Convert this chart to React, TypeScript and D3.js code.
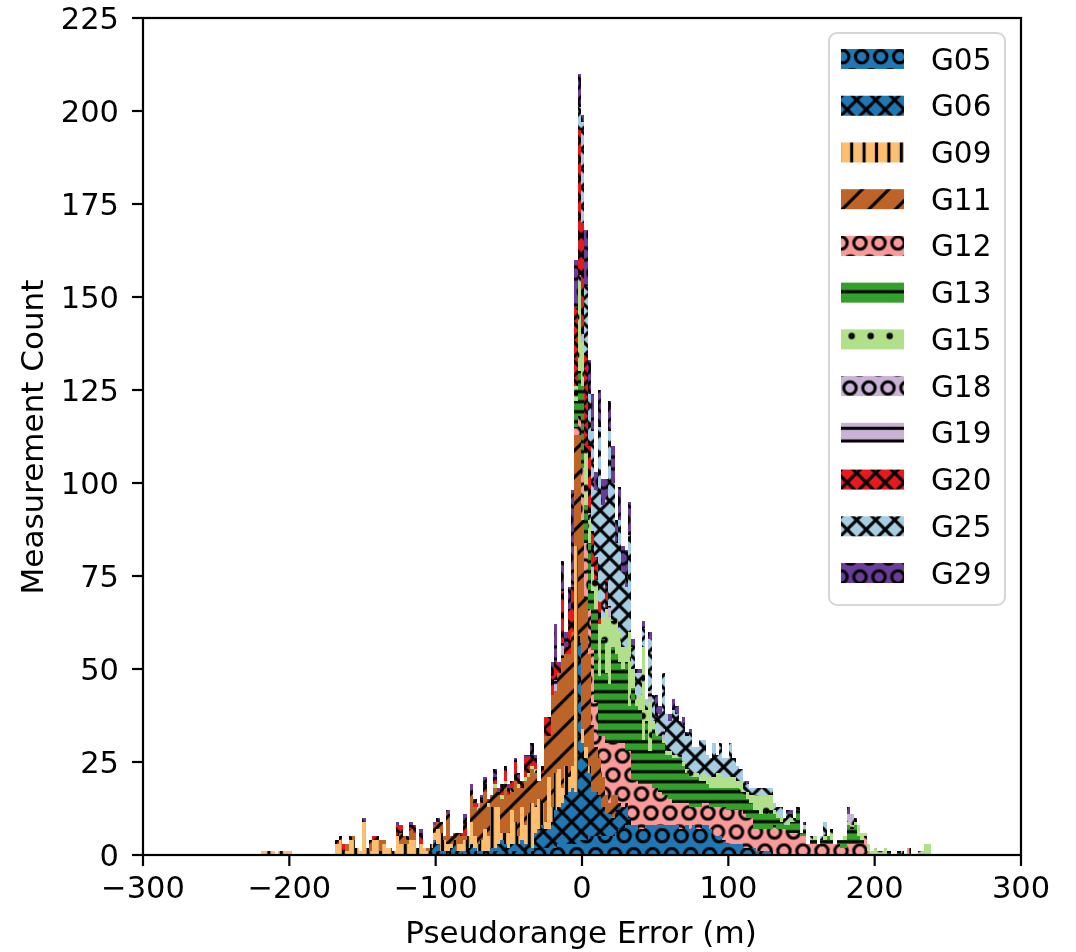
import React, { useMemo } from "react";
import * as d3 from "d3";

// Histogram bins
const BIN_ORIGIN = -219.2;
const BIN_WIDTH = 2.3;
const BIN_COUNT = 200;

// Series: first occupied bin + measurement counts per bin
const G05_START = 50;
const G05 = [1,1,1,0,1,0,1,1,1,0,1,1,1,1,0,1,0,1,1,1,1,1,1,1,1,1,1,1,1,1,1,2,2,2,2,2,2,2,3,3,3,3,3,3,4,4,4,5,5,5,5,5,5,5,5,6,7,7,8,8,8,8,7,7,8,8,8,8,8,8,8,8,8,8,7,7,8,7,8,7,7,8,8,7,5,5,5,4,3,3,3,3,3,2,2,2,2,1,1,1,1,1];
const G06_START = 50;
const G06 = [1,3,2,1,0,1,1,2,0,1,0,1,2,1,1,0,1,0,1,1,2,3,2,1,2,2,2,3,2,2,1,4,5,6,5,5,7,10,10,11,13,14,15,14,53,26,22,17,12,12,11,8,6,6,5,6,6,6,6,2];
const G09_START = 0;
const G09 = [1,1,1,1,0,1,1,1,1,0,0,0,0,0,0,0,0,0,0,0,0,0,3,4,1,1,4,4,2,1,9,2,1,4,4,1,3,2,2,1,5,3,3,3,4,4,2,3,2,1,1,2,4,5,3,2,1,1,2,2,3,3,6,3,2,3,6,4,11,11,10,2,3,4,9,6,2,9,5,8,12,7,8,6,2,14,4,10,10,4,8,4,6,66,2,4,3,2];
const G11_START = 25;
const G11 = [2,0,1,0,0,0,0,3,0,0,3,1,0,0,0,0,3,2,1,3,2,0,0,0,1,0,2,2,3,1,8,2,2,3,2,1,0,8,8,9,10,10,8,3,5,3,9,13,10,5,11,13,5,12,10,9,9,5,8,23,11,30,22,26,35,30,33,36,30,54,56,40,30,18,12,10,8,5,3,6,4,1];
const G12_START = 93;
const G12 = [2,5,14,15,12,20,12,6,11,14,16,14,14,16,17,14,18,12,12,12,12,11,11,10,10,9,8,8,7,6,6,7,7,6,6,5,6,6,6,6,6,8,8,8,9,9,9,9,9,9,9,8,8,5,6,6,6,6,6,8,7,7,7,6,6,6,6,5,5,3,3,3,3,3,3,3,3,3,3,2,2,3,3,3,3,3,5,1,0,0,0,0,0,0,0,0,0,1,0,2];
const G13_START = 93;
const G13 = [7,12,22,10,18,16,25,16,26,19,16,26,24,22,20,24,12,25,20,20,12,17,9,16,14,15,14,11,12,12,12,12,10,8,8,8,8,7,6,5,5,5,5,5,5,6,6,6,6,5,5,5,4,5,5,4,5,4,5,3,3,2,1,2,3,3,6,1,2,0,1,1,0,1,1,2,1,0,1,2,2,5,4,5,2,1,0,0,0,0,0,0,0,1,0,0,1];
const G15_START = 64;
const G15 = [1,0,0,1,0,1,0,1,1,0,0,0,1,0,1,1,1,1,0,0,0,0,0,0,0,0,0,0,0,4,24,12,15,6,5,8,14,6,17,18,7,10,8,6,4,20,5,3,4,25,3,13,2,1,0,1,1,1,1,1,1,1,1,1,1,1,1,2,2,3,3,4,4,3,3,3,3,2,3,0,2,2,4,4,5,4,5,4,1,1,1,0,1,1,0,0,0,1,0,0,1,0,0,1,0,3,0,0,0,1,1,1,1,3,2,1,2,1,2,1,1,2,0,0,0,0,0,0,0,0,0,1,1,3,3];
const G18_BINS = [64, 74, 94, 95, 97, 98, 143, 174, 175];
const G18_COUNTS = [1, 1, 2, 2, 2, 2, 1, 2, 3];
const G19_BINS = [87, 89, 103, 115, 119];
const G19_COUNTS = [3, 4, 3, 3, 3];
const G20_START = 22;
const G20 = [1,1,2,0,0,0,0,0,0,0,0,1,1,0,0,0,0,0,3,2,0,0,1,2,0,3,0,0,0,0,0,0,0,0,0,0,0,1,4,0,0,1,0,1,2,1,0,2,1,2,3,2,2,5,2,2,5,4,3,3,0,2,5,5,5,5,2,14,2,12,12,21,39,30,26,18,9,6,6,0,8];
const G25_START = 94;
const G25 = [6,27,18,14,27,18,47,30,22,47,37,20,30,20,16,26,6,6,6,5,3,14,7,4,6,15,10,8,12,11,9,10,9,11,7,7,10,9,6,5,9,5,8,5,5,9,5,4,3,3,2,2,2,2,2,2,2,2,2,2,3,2,2,1,1,0,0,0,0,1,0,0,1,4];
const G29_START = 26;
const G29 = [1,0,0,0,1,0,0,0,0,0,0,0,0,0,1,0,0,1,1,0,0,1,0,0,0,1,1,0,0,1,0,0,0,0,2,0,2,1,0,1,2,0,0,2,1,1,1,1,0,1,1,0,1,1,3,1,0,0,0,0,4,10,1,8,4,6,26,13,9,2,15,9,10,5,10,7,5,8,10,6,9,7,10,9,2,1,1,2,0,2,0,6,2,0,0,2,3,2,0,2,1,1,0,0,0,0,0,0,0,0,0,0,0,0,0,0,0,0,1,0,0,0,0,0,0,0,0,0,0,0,1,1,0,1,0,1,0,0,0,0,0,0,0,0,0,0,0,0,2,0,1];

const SATELLITES = ["G05","G06","G09","G11","G12","G13","G15","G18","G19","G20","G25","G29"];
const X_TICKS = [-300,-200,-100,0,100,200,300];
const Y_TICKS = [0,25,50,75,100,125,150,175,200,225];

const dense = (start: number, vals: number[]) => {
  const a = new Array(BIN_COUNT).fill(0);
  vals.forEach((v, i) => { a[start + i] = v; });
  return a;
};
const sparse = (bins: number[], vals: number[]) => {
  const a = new Array(BIN_COUNT).fill(0);
  bins.forEach((b, i) => { a[b] = vals[i]; });
  return a;
};

const SERIES: Record<string, number[]> = {
  G05: dense(G05_START, G05), G06: dense(G06_START, G06), G09: dense(G09_START, G09),
  G11: dense(G11_START, G11), G12: dense(G12_START, G12), G13: dense(G13_START, G13),
  G15: dense(G15_START, G15), G18: sparse(G18_BINS, G18_COUNTS), G19: sparse(G19_BINS, G19_COUNTS),
  G20: dense(G20_START, G20), G25: dense(G25_START, G25), G29: dense(G29_START, G29),
};

const FONT = "'DejaVu Sans', sans-serif";
const INK = "#000";
const W = 1076, H = 952;
const L = 143, R = 1021, T = 18, B = 855;

type Hatch = { color: string; kind: "ring" | "x" | "v" | "slash" | "h" | "dot"; tx: number; ty: number; size?: number };
const STYLE: Record<string, Hatch> = {
  G05: { color: "#1f78b4", kind: "ring", tx: 852.2, ty: 47.2 },
  G06: { color: "#1f78b4", kind: "x", tx: 847.2, ty: 90.5 },
  G09: { color: "#fdbf6f", kind: "v", tx: 851.7, ty: 0, size: 12.4 },
  G11: { color: "#bd6429", kind: "slash", tx: 840, ty: 185, size: 26.6 },
  G12: { color: "#fb9a99", kind: "ring", tx: 850.5, ty: 233.5 },
  G13: { color: "#33a02c", kind: "h", tx: 0, ty: 291.7, size: 10 },
  G15: { color: "#b2df8a", kind: "dot", tx: 842.2, ty: 326.5 },
  G18: { color: "#cab2d6", kind: "ring", tx: 840.5, ty: 378.5 },
  G19: { color: "#cab2d6", kind: "h", tx: 0, ty: 428.3, size: 12.7 },
  G20: { color: "#e8191c", kind: "x", tx: 847.2, ty: 463.5 },
  G25: { color: "#a6cee3", kind: "x", tx: 847.2, ty: 510.5 },
  G29: { color: "#6a3d9a", kind: "ring", tx: 850.5, ty: 567.5 },
};

function HatchPattern({ id, s }: { id: string; s: Hatch }) {
  const ink = "#000";
  const sw = 3.1;
  let w = 19, h = 19;
  let tx = s.tx, ty = s.ty;
  let body: React.ReactNode = null;
  if (s.kind === "ring" || s.kind === "dot") {
    h = 38;
    const pts = [[9.5, 9.5], [0, 28.5], [19, 28.5]];
    body = pts.map(([cx, cy], i) => s.kind === "ring"
      ? <circle key={i} cx={cx} cy={cy} r={6.2} fill="none" stroke={ink} strokeWidth={sw} />
      : <circle key={i} cx={cx} cy={cy} r={3.2} fill={ink} />);
  } else if (s.kind === "x") {
    body = <path d="M-2,-2L21,21M-2,21L21,-2M17,-2L21,2M-2,17L2,21M17,21L21,17M-2,2L2,-2" stroke={ink} strokeWidth={sw} fill="none" />;
  } else if (s.kind === "v") {
    w = s.size!; h = 19;
    tx -= w / 2;
    body = <line x1={w / 2} x2={w / 2} y1={0} y2={h} stroke={ink} strokeWidth={sw} />;
  } else if (s.kind === "h") {
    h = s.size!;
    ty -= h / 2;
    body = <line x1={0} x2={w} y1={h / 2} y2={h / 2} stroke={ink} strokeWidth={sw} />;
  } else {
    w = h = s.size!;
    body = <path d={`M-2,${h + 2}L${w + 2},-2M${w - 3},${h + 3}L${w + 3},${h - 3}M-3,3L3,-3`} stroke={ink} strokeWidth={sw} fill="none" />;
  }
  return (
    <pattern id={id} patternUnits="userSpaceOnUse" width={w} height={h}
      patternTransform={`translate(${tx},${ty})`}>
      <rect width={w} height={h} fill={s.color} />
      {body}
    </pattern>
  );
}

export default function App() {
  const x = useMemo(() => d3.scaleLinear().domain([-300, 300]).range([L, R]), []);
  const y = useMemo(() => d3.scaleLinear().domain([0, 225]).range([B, T]), []);
  const rows = useMemo(() => d3.range(BIN_COUNT).map((i) => {
    const row: Record<string, number> = { i };
    SATELLITES.forEach((k) => { row[k] = SERIES[k][i]; });
    return row;
  }), []);
  const stacks = useMemo(() => d3.stack<Record<string, number>>().keys(SATELLITES)(rows), [rows]);

  const LEGEND_Y = d3.range(SATELLITES.length).map((i) => 59 + i * 46.73);

  return (
    <svg width={W} height={H} viewBox={`0 0 ${W} ${H}`}
      style={{ position: "absolute", left: 0, top: 0, display: "block", background: "#fff", filter: "blur(0.7px)" }}>
      <defs>
        {SATELLITES.map((k) => <HatchPattern key={k} id={`hatch-${k}`} s={STYLE[k]} />)}
        <HatchPattern id="hatch-legend-G13" s={{ ...STYLE.G13, size: 26 }} />
      </defs>
      <g shapeRendering="crispEdges">
        {stacks.map((layer) => (
          <g key={layer.key} fill={`url(#hatch-${layer.key})`}>
            {layer.map((d, i) => d[1] > d[0] ? (
              <rect key={i}
                x={x(BIN_ORIGIN + i * BIN_WIDTH)}
                width={x(BIN_ORIGIN + (i + 1) * BIN_WIDTH) - x(BIN_ORIGIN + i * BIN_WIDTH)}
                y={y(d[1])} height={y(d[0]) - y(d[1])} />
            ) : null)}
          </g>
        ))}
      </g>
      <rect x={L} y={T} width={R - L} height={B - T} fill="none" stroke={INK} strokeWidth={2.2} />
      {X_TICKS.map((t) => (
        <g key={t}>
          <line x1={x(t)} x2={x(t)} y1={B} y2={B + 11} stroke={INK} strokeWidth={2.2} />
          <text x={x(t)} y={898} textAnchor="middle" fontFamily={FONT} fontSize={30.5} fill={INK}>
            {t < 0 ? `\u2212${-t}` : t}
          </text>
        </g>
      ))}
      {Y_TICKS.map((t) => (
        <g key={t}>
          <line x1={L - 11} x2={L} y1={y(t)} y2={y(t)} stroke={INK} strokeWidth={2.2} />
          <text x={119} y={y(t) + 11} textAnchor="end" fontFamily={FONT} fontSize={30.5} fill={INK}>{t}</text>
        </g>
      ))}
      <text x={581} y={943} textAnchor="middle" fontFamily={FONT} fontSize={31} fill={INK}>Pseudorange Error (m)</text>
      <text transform="translate(43,437) rotate(-90)" textAnchor="middle" fontFamily={FONT} fontSize={31} fill={INK}>Measurement Count</text>

      <rect x={829} y={33} width={176} height={572} rx={8} fill="#fff" fillOpacity={0.85} stroke="#d6d6d6" strokeWidth={2} />
      {SATELLITES.map((k, i) => (
        <g key={k}>
          <rect x={841} y={LEGEND_Y[i] - 10} width={63} height={20}
            fill={k === "G13" ? "url(#hatch-legend-G13)" : `url(#hatch-${k})`} />
          <text x={931} y={LEGEND_Y[i] + 10.5} fontFamily={FONT} fontSize={29.5} fill={INK}>{k}</text>
        </g>
      ))}
    </svg>
  );
}
